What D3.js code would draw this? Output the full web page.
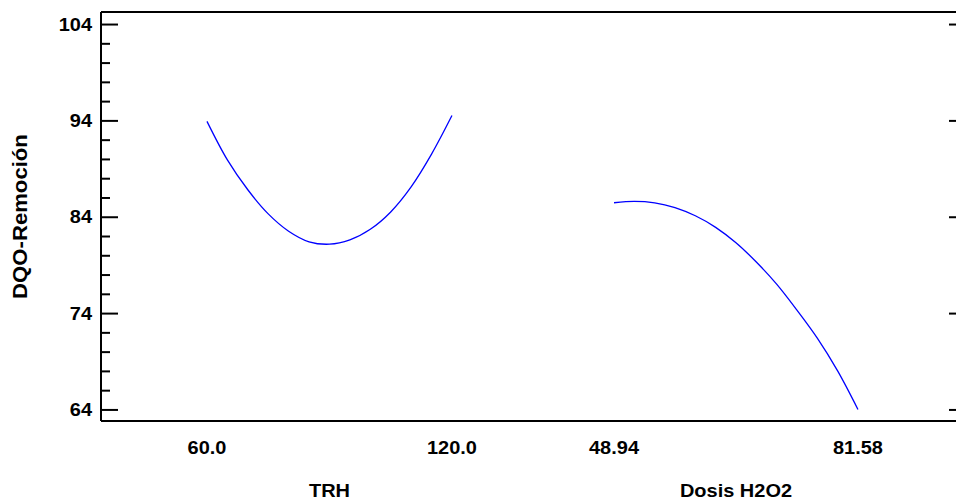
<!DOCTYPE html>
<html>
<head>
<meta charset="utf-8">
<script src="https://cdn.jsdelivr.net/npm/d3@7"></script>
<style>
  html, body { margin: 0; padding: 0; background: #fff; }
  svg { display: block; }
  text { font-family: "Liberation Sans", Arial, sans-serif; font-weight: bold; fill: #000; }
</style>
</head>
<body>
<svg id="chart" width="956" height="500"></svg>
<script>
// Main effects for DQO-Remoción
const factorNames = ["TRH", "Dosis H2O2"];
const trhLevels = [60, 65, 70, 75, 80, 85, 90, 95, 100, 105, 110, 115, 120];
const trhResponse = [93.9, 89.9, 86.8, 84.3, 82.5, 81.4, 81.15, 81.6, 82.7, 84.5, 87.1, 90.5, 94.5];
const dosisLevels = [48.94, 51.66, 54.38, 57.1, 59.82, 62.54, 65.26, 67.98, 70.7, 73.42, 76.14, 78.86, 81.58];
const dosisResponse = [85.45, 85.6, 85.45, 84.95, 84.1, 82.9, 81.3, 79.3, 77.0, 74.3, 71.4, 68.0, 64.0];
const xTickLabels = [["60.0", "120.0"], ["48.94", "81.58"]];
const yTicks = [64, 74, 84, 94, 104];
const yMinorTicks = d3.range(64, 105, 2);
const yLabel = "DQO-Remoción";

const svg = d3.select("#chart");
const frame = { left: 101, right: 957, top: 12, bottom: 421 };
const W = frame.right - frame.left;

const y = d3.scaleLinear().domain([62.8, 105.25]).range([frame.bottom, frame.top]);

// each factor occupies its own horizontal span inside the frame
const spans = [[0.1238, 0.41], [0.5993, 0.8843]];
const xTrh = d3.scaleLinear().domain([trhLevels[0], trhLevels[trhLevels.length - 1]])
  .range([frame.left + spans[0][0] * W, frame.left + spans[0][1] * W]);
const xDosis = d3.scaleLinear().domain([dosisLevels[0], dosisLevels[dosisLevels.length - 1]])
  .range([frame.left + spans[1][0] * W, frame.left + spans[1][1] * W]);

// frame lines
svg.append("path")
  .attr("d", `M${frame.left},${frame.top}H${frame.right}M${frame.left},${frame.top}V${frame.bottom}M${frame.left},${frame.bottom}H${frame.right}M${frame.right},${frame.top}V${frame.bottom}`)
  .attr("stroke", "#000").attr("stroke-width", 2).attr("fill", "none");

// left axis ticks (major + minor)
const gl = svg.append("g").attr("transform", `translate(${frame.left},0)`)
  .call(d3.axisRight(y).tickValues(yMinorTicks).tickSize(9).tickFormat(""));
gl.select(".domain").remove();
gl.selectAll(".tick line").attr("stroke", "#000").attr("stroke-width", 2)
  .attr("x2", d => yTicks.includes(d) ? 17 : 9);

// right axis ticks (major only, pointing inward)
const gr = svg.append("g").attr("transform", `translate(${frame.right},0)`)
  .call(d3.axisLeft(y).tickValues(yTicks).tickSize(8).tickFormat(""));
gr.select(".domain").remove();
gr.selectAll(".tick line").attr("stroke", "#000").attr("stroke-width", 2);

// y tick labels
svg.append("g").selectAll("text").data(yTicks).join("text")
  .attr("transform", d => `translate(${frame.left - 9},${y(d)}) scale(1.08,1)`)
  .attr("dy", "0.36em").attr("text-anchor", "end")
  .attr("font-size", 18.5)
  .text(d => d);

// x tick labels and factor names
const xScales = [xTrh, xDosis];
xScales.forEach((sx, i) => {
  const [d0, d1] = sx.domain();
  [[d0, xTickLabels[i][0]], [d1, xTickLabels[i][1]]].forEach(([v, lab]) => {
    svg.append("text")
      .attr("transform", `translate(${sx(v)},454) scale(1.08,1)`)
      .attr("text-anchor", "middle").attr("font-size", 18.5).text(lab);
  });
  const mid = (sx.range()[0] + sx.range()[1]) / 2;
  svg.append("text")
    .attr("transform", `translate(${mid},497) scale(1.08,1)`)
    .attr("text-anchor", "middle").attr("font-size", 18.5).text(factorNames[i]);
});

// y axis title
svg.append("text")
  .attr("transform", `translate(27,${(frame.top + frame.bottom) / 2}) rotate(-90) scale(1.08,1)`)
  .attr("text-anchor", "middle").attr("font-size", 20.5).text(yLabel);

// effect curves
const line = sx => d3.line().curve(d3.curveCatmullRom).x(d => sx(d[0])).y(d => y(d[1]));
svg.append("path")
  .datum(d3.zip(trhLevels, trhResponse))
  .attr("d", line(xTrh)).attr("fill", "none").attr("stroke", "#0000ff").attr("stroke-width", 1.3);
svg.append("path")
  .datum(d3.zip(dosisLevels, dosisResponse))
  .attr("d", line(xDosis)).attr("fill", "none").attr("stroke", "#0000ff").attr("stroke-width", 1.3);
</script>
</body>
</html>
